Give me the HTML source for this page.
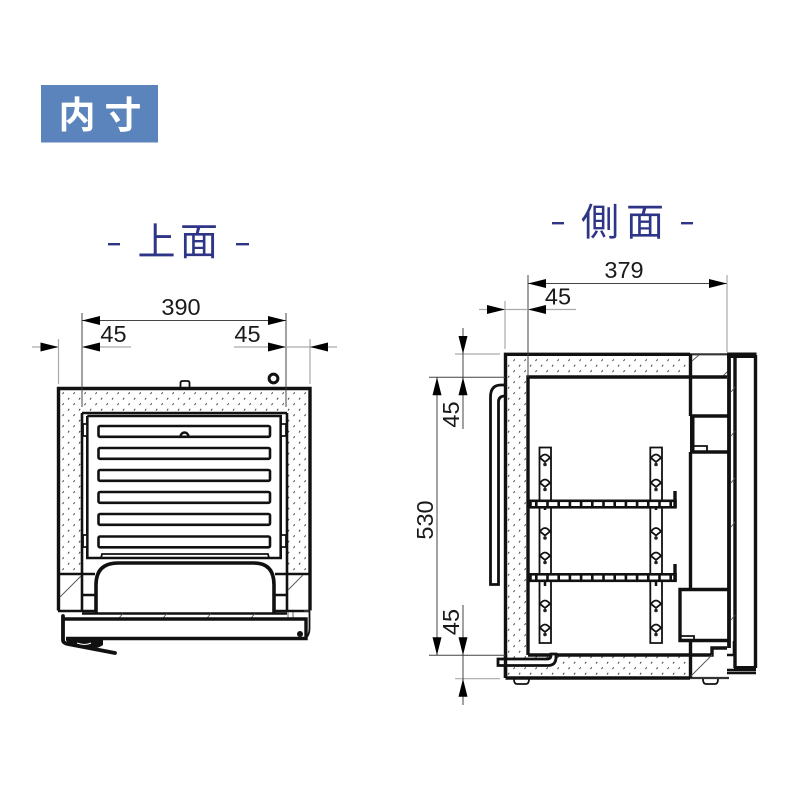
<!DOCTYPE html>
<html lang="ja"><head><meta charset="utf-8"><title>内寸</title>
<style>
html,body{margin:0;padding:0;background:#fff}
svg{display:block}
text{font-family:"Liberation Sans","Noto Sans CJK JP",sans-serif}
.d{font-size:23.500px;fill:#1a1a1a;text-anchor:middle}
.t{font-size:38px;fill:#2e3586;text-anchor:middle}
.b{fill:none;stroke:#111;stroke-width:2.600}
.h{fill:none;stroke:#111;stroke-width:3.400}
.m{fill:none;stroke:#111;stroke-width:1.800}
.l{stroke:#444;stroke-width:1;fill:none}
.g{stroke:#aaa;stroke-width:1.200;fill:none}
.dg{stroke:#555;stroke-width:.9;fill:none}
</style></head><body>
<svg xmlns="http://www.w3.org/2000/svg" width="800" height="800" viewBox="0 0 800 800">
<defs>
<pattern id="st" width="11" height="11" patternUnits="userSpaceOnUse">
<path d="M2 3.600l1.200-1.800M7.500 9.100l1.200-1.800" stroke="#444" stroke-width="1" fill="none"/>
</pattern>
<g id="k"><path d="M-5 0Q0-7 5 0L0 4Z" fill="#fff" stroke="#111" stroke-width="1.800"/><circle cx="0" cy="6.500" r="1.800" fill="#222"/></g>
<path id="ar" d="M0 0L-18-4.500V4.500Z" fill="#000"/>
</defs>
<rect width="800" height="800" fill="#fff"/>
<rect x="41" y="85" width="117" height="57.500" fill="#5b83bc"/>
<text x="77" y="128" font-size="37" font-weight="700" fill="#fff" text-anchor="middle">内</text>
<text x="123" y="128" font-size="37" font-weight="700" fill="#fff" text-anchor="middle">寸</text>

<text x="156.500" y="255" class="t">上</text><text x="199" y="255" class="t">面</text>
<rect x="108" y="243" width="12" height="2.400" fill="#2e3586"/><rect x="236" y="243" width="13" height="2.400" fill="#2e3586"/>
<text x="600" y="235.500" class="t">側</text><text x="645" y="235.500" class="t">面</text>
<rect x="552" y="222" width="12" height="2.400" fill="#2e3586"/><rect x="681" y="222" width="12" height="2.400" fill="#2e3586"/>

<!-- TOP VIEW -->
<path d="M59 389H309V574H287V413H82V574H59Z" fill="url(#st)"/>
<path class="h" d="M58.500 610.500V388.500H310V610.500"/>
<path class="b" d="M58 574H95M275 574H310M58 611H95M275 611H310M82 413H287M82 413V611M287 413V611M82 595H95M275 595H287"/>
<path class="dg" d="M60 597L81 576M288 590L303 575"/>
<path class="m" d="M180.500 388V383q0-2 2-2h5q2 0 2 2v5"/>
<circle cx="273.500" cy="378.500" r="4.400" fill="none" stroke="#111" stroke-width="3"/>
<path class="b" d="M87.300 416V558H280.700V416H87.300"/>
<path d="M83 424h4v12h-4zM281 424h5v12h-5zM83 535h4v12h-4zM281 535h5v12h-5z" fill="#fff" stroke="#111" stroke-width="1.800"/>
<g class="b" stroke-linejoin="round">
<rect x="98.500" y="426" width="171.500" height="10.800" rx="1.500"/>
<rect x="98.500" y="448" width="171.500" height="10.800" rx="1.500"/>
<rect x="98.500" y="470" width="171.500" height="10.800" rx="1.500"/>
<rect x="98.500" y="492" width="171.500" height="10.800" rx="1.500"/>
<rect x="98.500" y="514" width="171.500" height="10.800" rx="1.500"/>
<rect x="98.500" y="536.500" width="171.500" height="10.800" rx="1.500"/>
</g>
<path class="m" d="M101 558L102 554H268L269 558"/>
<path d="M180.500 436.500a3.700 3.700 0 0 1 8 0" fill="none" stroke="#111" stroke-width="2.400"/>
<path d="M96 613V585q0-22 22-22H254q20 0 20 22V613" fill="none" stroke="#111" stroke-width="3.600"/>
<path class="b" d="M82 613.500H287M82 619H287"/>
<path class="dg" d="M119 618L123 613.500M163 618L167 613.500M207 618L211 613.500M251 618L255 613.500M288 618V612M293 618V612M304 611H309"/>
<path class="h" d="M63 619H306V638.500H66"/>
<path d="M63 616V640q0 3 5 4L115 653" fill="none" stroke="#111" stroke-width="3.800" stroke-linecap="round"/>
<path class="m" d="M309.500 611V628q0 9-6 11"/>
<path d="M66 640H103V645Q96 650 88 647L68 644Z" fill="#111"/>
<path d="M77 643q8 3 14 0" stroke="#fff" stroke-width="1" fill="none"/>
<circle cx="300" cy="634" r="3" fill="#111"/>

<!-- TOP DIMS -->
<path class="l" d="M82 313V407M286 313V407M82 320.500H286"/>
<use href="#ar" transform="translate(82 320.500) rotate(180)"/><use href="#ar" transform="translate(286 320.500)"/>
<text x="181" y="315" class="d">390</text>
<path class="g" d="M58.500 339V384M310 339V384"/>
<path class="g" d="M32 347H58M82 347H131M234 347H286M286 347H337"/>
<use href="#ar" transform="translate(58.500 347)"/><use href="#ar" transform="translate(82 347) rotate(180)"/>
<use href="#ar" transform="translate(286 347)"/><use href="#ar" transform="translate(310 347) rotate(180)"/>
<text x="113.500" y="342" class="d">45</text><text x="247.500" y="342" class="d">45</text>

<!-- SIDE VIEW -->
<path d="M506 355H690V377H528V655H690V678H506Z" fill="url(#st)"/>
<path class="h" d="M505.500 678V354.300H690M528 655V377H690M528 655H712V648H727M505.500 678H690"/>
<path d="M690 354.300H729M690 678H729" fill="none" stroke="#333" stroke-width="2.200"/>
<path class="h" d="M690.500 354V416M690.500 452V589M690.500 641V678"/>
<path class="dg" d="M692 361L699 355M691 676L712 655M722 377L728 371"/>
<path class="h" d="M690 377H727"/>
<path d="M692 416H729M692 452H729" class="h"/>
<rect x="690" y="415" width="4.500" height="37" fill="#111"/>
<path class="m" d="M693 446H707V451"/>
<path class="h" d="M729 589.500H680V640.500H729"/>
<path class="m" d="M680 636H694V641"/>
<path d="M729 354V648" fill="none" stroke="#111" stroke-width="3.800"/>
<path class="h" d="M735 356V668M734 667.700H756M755.500 355V668"/>
<path d="M727 352.500H756.500V358H727Z" fill="#111"/>
<path class="b" d="M727 655H734V641M727 670H756M727 673H756"/>
<path class="dg" d="M731 392L735 387M731 436L735 431M731 483L735 478M731 527L735 522M731 620L735 615"/>
<path class="m" d="M703 679q0 5 3 5h9q3 0 3-5"/>

<path class="m" d="M539.500 447.500V643H551V447.500ZM650.300 447.500V643H662V447.500Z"/>
<use href="#k" x="545" y="458"/><use href="#k" x="545" y="483"/><use href="#k" x="545" y="531.500"/><use href="#k" x="545" y="556"/><use href="#k" x="545" y="604"/><use href="#k" x="545" y="628"/>
<use href="#k" x="656" y="458"/><use href="#k" x="656" y="483"/><use href="#k" x="656" y="531.500"/><use href="#k" x="656" y="556"/><use href="#k" x="656" y="604"/><use href="#k" x="656" y="628"/>
<g>
<rect x="530.500" y="500.800" width="145" height="6.500" fill="#fff" stroke="#111" stroke-width="2.600"/>
<path d="M535 504H674" stroke="#111" stroke-width="4" stroke-dasharray="2.600 8.600" fill="none"/>
<path class="h" d="M675 491V507"/>
<rect x="530.500" y="574.300" width="145" height="6.500" fill="#fff" stroke="#111" stroke-width="2.600"/>
<path d="M535 577.500H674" stroke="#111" stroke-width="4" stroke-dasharray="2.600 8.600" fill="none"/>
<path class="h" d="M675 564V581"/>
<path d="M545 507v3M656 507v3M545 581v5M656 581v5" stroke="#111" stroke-width="2.500"/>
</g>
<path d="M505 385H501Q490.500 385 490.500 397V584.500H498.500V402Q498.500 396 505 396" fill="none" stroke="#111" stroke-width="2.800"/>
<path d="M498 665.500H548Q556 665.500 556 657V654H551V655Q551 659 547 659H498Z" fill="#fff" stroke="#111" stroke-width="2.800"/>
<path class="h" d="M505.500 655V678"/><path class="m" d="M514 679q0 5 3 5h9q3 0 3-5"/>

<!-- SIDE DIMS -->
<path class="l" d="M528 275V377M528 283.500H727"/>
<path class="g" d="M727 275V352"/>
<use href="#ar" transform="translate(528 283.500) rotate(180)"/><use href="#ar" transform="translate(727 283.500)"/>
<text x="624" y="278" class="d">379</text>
<path class="g" d="M505 301V349M479 309.500H576"/>
<use href="#ar" transform="translate(505 309.500)"/><use href="#ar" transform="translate(528 309.500) rotate(180)"/>
<text x="558" y="304.500" class="d">45</text>
<path class="g" d="M455 354H500M455 678.700H500"/>
<path class="l" d="M429 377.200H505M429 655.300H505M463 328V429M463 605V705M437 377V655"/>
<use href="#ar" transform="translate(463 354) rotate(90)"/><use href="#ar" transform="translate(463 377.200) rotate(-90)"/>
<use href="#ar" transform="translate(437 377.200) rotate(-90)"/><use href="#ar" transform="translate(437 655.300) rotate(90)"/>
<use href="#ar" transform="translate(463 655.300) rotate(90)"/><use href="#ar" transform="translate(463 678.700) rotate(-90)"/>
<text class="d" transform="translate(459 414.500) rotate(-90)">45</text>
<text class="d" transform="translate(459 622) rotate(-90)">45</text>
<text class="d" transform="translate(433 520) rotate(-90)">530</text>
</svg>
</body></html>
